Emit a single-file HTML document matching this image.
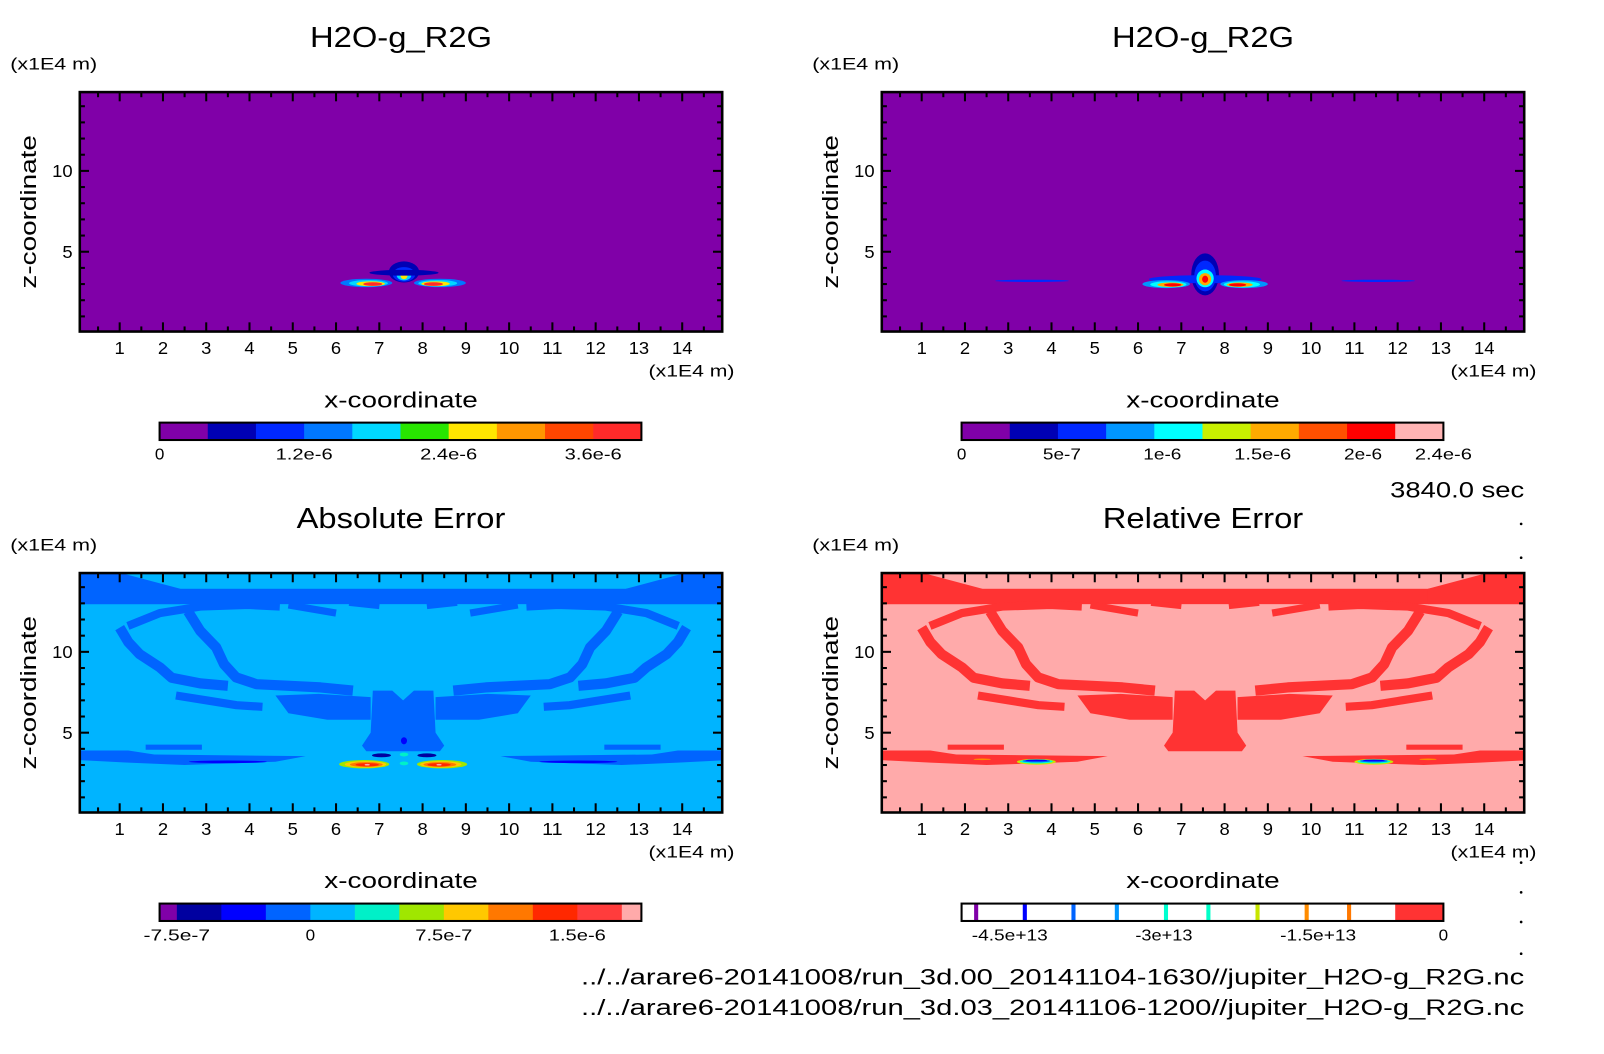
<!DOCTYPE html>
<html><head><meta charset="utf-8"><style>
html,body{margin:0;padding:0;background:#fff;}
svg{display:block;}
text{font-family:"Liberation Sans",sans-serif;fill:#000;}
</style></head><body>
<svg id="fig" xmlns="http://www.w3.org/2000/svg" width="1604" height="1054" viewBox="0 0 1568 1030" preserveAspectRatio="none">
<rect x="0" y="0" width="1568" height="1030" fill="#fff"/>
<g id="root"></g>
<text x="1490" y="486" font-size="22" text-anchor="end" textLength="131" lengthAdjust="spacingAndGlyphs">3840.0 sec</text>
<text x="1490" y="962" font-size="22" text-anchor="end" textLength="922" lengthAdjust="spacingAndGlyphs">../../arare6-20141008/run_3d.00_20141104-1630//jupiter_H2O-g_R2G.nc</text>
<text x="1490" y="992" font-size="22" text-anchor="end" textLength="922" lengthAdjust="spacingAndGlyphs">../../arare6-20141008/run_3d.03_20141106-1200//jupiter_H2O-g_R2G.nc</text>
</svg>
<script>
// ---- data ----
const xTicks=[1,2,3,4,5,6,7,8,9,10,11,12,13,14];
const zTicks=[5,10];
const panelTitles=["H2O-g_R2G","H2O-g_R2G","Absolute Error","Relative Error"];
const titleWidths=[178,178,204,196];
const cbColorsTL=["#8000a8","#0000b4","#0028ff","#0078ff","#00d8ff","#28e600","#ffe600","#ff9600","#ff4600","#ff2a2a"];
const cbTicksTL=[0,1.2e-6,2.4e-6,3.6e-6];
const cbLabelsTL=["0","1.2e-6","2.4e-6","3.6e-6"];
const cbMaxTL=4e-6;
const cbColorsTR=["#8000a8","#0000b4","#0028ff","#0096ff","#00ffff","#c8f000","#ffaa00","#ff5000","#ff0000","#ffb4b4"];
const cbTicksTR=[0,5e-7,1e-6,1.5e-6,2e-6,2.4e-6];
const cbLabelsTR=["0","5e-7","1e-6","1.5e-6","2e-6","2.4e-6"];
const cbMaxTR=2.4e-6;
const cbColorsBL=["#8000a8","#0000a0","#0000ff","#0064ff","#00b4ff","#00f0c8","#a0e600","#ffc800","#ff7800","#ff2800","#ff3c3c","#ffaaaa"];
const cbEdgesBL=[-8.47e-7,-7.5e-7,-5e-7,-2.5e-7,0,2.5e-7,5e-7,7.5e-7,1e-6,1.25e-6,1.5e-6,1.75e-6,1.86e-6];
const cbTicksBL=[-7.5e-7,0,7.5e-7,1.5e-6];
const cbLabelsBL=["-7.5e-7","0","7.5e-7","1.5e-6"];
const cbLineFracBR=[0.026,0.127,0.228,0.318,0.42,0.508,0.61,0.712,0.8];
const cbLineColorsBR=["#8000a8","#0000ff","#0064ff","#0096ff","#00ffd0","#00ffc8","#c8e600","#ff8c00","#ff7800"];
const cbRedFracBR=0.9;
const cbTickFracBR=[0.1,0.42,0.74,1.0];
const cbLabelsBR=["-4.5e+13","-3e+13","-1.5e+13","0"];
// blobs: [x, z, rx, rz, color]
const blobsTL=[[7.57,3.75,0.35,0.65,"#0000b4"],[7.57,3.6,0.26,0.45,"#0028ff"],[7.57,3.55,0.17,0.32,"#00d8ff"],[7.57,3.5,0.08,0.2,"#ffe600"],
 [7.57,3.7,0.8,0.18,"#0000b4"],
 [6.7,3.07,0.6,0.26,"#0078ff"],[6.75,3.05,0.45,0.2,"#00d8ff"],[6.8,3.02,0.33,0.15,"#ffe600"],[6.85,3.0,0.22,0.11,"#ff2a2a"],
 [8.4,3.07,0.6,0.26,"#0078ff"],[8.35,3.05,0.45,0.2,"#00d8ff"],[8.3,3.02,0.33,0.15,"#ffe600"],[8.25,3.0,0.22,0.11,"#ff2a2a"]];
const blobsTR=[[7.55,3.6,0.32,1.3,"#0000b4"],[7.55,3.5,0.25,0.95,"#0028ff"],[7.55,3.3,1.3,0.25,"#0028ff"],[7.55,3.35,0.2,0.55,"#00ffff"],[7.55,3.3,0.14,0.38,"#ffaa00"],[7.55,3.3,0.07,0.22,"#ff0000"],
 [6.65,3.0,0.55,0.25,"#0096ff"],[6.7,2.98,0.42,0.19,"#00ffff"],[6.75,2.96,0.3,0.14,"#ffaa00"],[6.8,2.95,0.2,0.1,"#ff0000"],
 [8.45,3.0,0.55,0.25,"#0096ff"],[8.4,2.98,0.42,0.19,"#00ffff"],[8.35,2.96,0.3,0.14,"#ffaa00"],[8.3,2.95,0.2,0.1,"#ff0000"],
 [3.55,3.2,0.85,0.07,"#0028ff"],[11.55,3.2,0.85,0.07,"#0028ff"]];
// error pattern (left half, mirrored about centre)
const mirrorX=15.1;
const strokeArm=[[1.0,11.5],[1.2,10.6],[1.46,9.86],[1.93,9.04],[2.2,8.4],[2.86,8.05],[3.5,7.9]];
const strokeInner=[[2.58,12.5],[2.86,11.3],[3.23,10.27],[3.41,9.24],[3.69,8.42],[4.16,8.0],[5.64,7.8],[6.39,7.6]];
const strokeRim=[[1.19,11.6],[1.93,12.4],[2.86,12.8],[3.97,12.9],[4.7,12.8]];
const strokeRim2=[[4.9,12.9],[6.0,12.4]];
const strokeRim3=[[6.3,13.0],[7.0,12.8]];
const strokeFeather=[[2.3,7.3],[3.0,7.0],[3.7,6.7],[4.3,6.6]];
const strokeUpper=[[1.6,4.1],[2.9,4.1]];
const polyLump=[[4.6,7.3],[5.6,7.4],[6.8,7.2],[6.8,5.8],[5.8,5.8],[4.9,6.2]];
const polyBand=[[0.08,3.9],[1.2,3.9],[1.8,3.65],[5.3,3.55],[4.6,3.2],[2.5,3.0],[1.2,3.15],[0.08,3.3]];
const polyTopCorner=[[0.08,14.9],[1.0,14.9],[2.4,13.9],[2.4,12.95],[0.08,12.95]];
const polyColumn=[[6.85,7.6],[7.3,7.6],[7.55,7.0],[7.8,7.6],[8.25,7.6],[8.3,5.0],[8.5,4.2],[8.4,3.85],[6.7,3.85],[6.6,4.2],[6.8,5.0]];
const blobsBL=[[3.5,3.2,0.9,0.08,"#0000ff"],[11.6,3.2,0.9,0.08,"#0000ff"],[7.57,4.5,0.07,0.22,"#0000ff"],
 [7.05,3.6,0.22,0.12,"#0000a0"],[8.1,3.6,0.22,0.12,"#0000a0"],[7.57,3.65,0.1,0.12,"#00f0c8"],[7.57,3.1,0.1,0.12,"#00f0c8"],
 [6.65,3.05,0.58,0.26,"#a0e600"],[6.68,3.04,0.48,0.2,"#ffc800"],[6.7,3.03,0.38,0.15,"#ff7800"],[6.72,3.02,0.27,0.1,"#ff2800"],[6.72,3.02,0.06,0.05,"#ffaaaa"],
 [8.45,3.05,0.58,0.26,"#a0e600"],[8.42,3.04,0.48,0.2,"#ffc800"],[8.4,3.03,0.38,0.15,"#ff7800"],[8.38,3.02,0.27,0.1,"#ff2800"],[8.38,3.02,0.06,0.05,"#ffaaaa"]];
const blobsBR=[[3.65,3.2,0.45,0.18,"#c8e600"],[3.65,3.22,0.38,0.13,"#00ffd0"],[3.65,3.25,0.32,0.09,"#0064ff"],[3.65,3.28,0.25,0.05,"#0000ff"],
 [11.45,3.2,0.45,0.18,"#c8e600"],[11.45,3.22,0.38,0.13,"#00ffd0"],[11.45,3.25,0.32,0.09,"#0064ff"],[11.45,3.28,0.25,0.05,"#0000ff"],
 [2.4,3.35,0.2,0.05,"#ff8c00"],[12.7,3.35,0.2,0.05,"#ff8c00"]];

// ---- drawing ----
const NS="http://www.w3.org/2000/svg";
const root=document.getElementById('root');
function el(tag,attrs,parent){const e=document.createElementNS(NS,tag);for(const k in attrs)e.setAttribute(k,attrs[k]);(parent||root).appendChild(e);return e;}
const panels=[[0,0],[784,0],[0,470],[784,470]];
const pnames=["top-left","top-right","bottom-left","bottom-right"];
panels.forEach((p,i)=>{
  const ox=p[0],oy=p[1];
  const sx=v=>ox+74.7+42.3*v, sz=v=>oy+325-15.8*v;
  const g=el('g',{});
  
  
  const cid='clip'+i;
  const cp=el('clipPath',{id:cid},g);el('rect',{x:ox+78,y:oy+90,width:628,height:234},cp);
  const plot=el('g',{'clip-path':'url(#'+cid+')'},g);
  
  
  const bg=["#8000a8","#8000a8","#00b4ff","#ffaaaa"][i];
  el('rect',{x:ox+78,y:oy+90,width:628,height:234,fill:bg},plot);
  const pts=a=>a.map(q=>sx(q[0])+','+sz(q[1])).join(' ');
  const mir=a=>a.map(q=>[mirrorX-q[0],q[1]]);
  function blobs(arr){arr.forEach(b=>{const e=el('ellipse',{cx:sx(b[0]),cy:sz(b[1]),rx:b[2]*42.3,ry:b[3]*15.8,fill:b[4]},plot);
    });}
  if(i>=2){
    const dk=i==2?"#0064ff":"#ff3333";
    el('rect',{x:ox+78,y:sz(13.9),width:628,height:sz(12.95)-sz(13.9),fill:dk},plot);
    [polyTopCorner,polyLump,polyBand].forEach(a=>{el('polygon',{points:pts(a),fill:dk},plot);el('polygon',{points:pts(mir(a)),fill:dk},plot);});
    el('polygon',{points:pts(polyColumn),fill:dk},plot);
    [[strokeArm,10],[strokeInner,10],[strokeRim,8],[strokeRim2,7],[strokeRim3,5],[strokeFeather,8],[strokeUpper,5]].forEach(s=>{
      [s[0],mir(s[0])].forEach(a=>{el('polyline',{points:pts(a),fill:'none',stroke:dk,'stroke-width':s[1],'stroke-linejoin':'round'},plot);});
    });
    blobs(i==2?blobsBL:blobsBR);
  } else blobs(i==0?blobsTL:blobsTR);
  // frame
  const fr=el('rect',{x:ox+78,y:oy+90,width:628,height:234,fill:'none',stroke:'#000','stroke-width':2.5},g);
  
  for(let v=0.5;v<14.95;v+=0.5){const maj=Math.abs(v-Math.round(v))<1e-6,L=maj?9:5;
    el('line',{x1:sx(v),x2:sx(v),y1:oy+90,y2:oy+90+L,stroke:'#000','stroke-width':2},g);
    el('line',{x1:sx(v),x2:sx(v),y1:oy+324,y2:oy+324-L,stroke:'#000','stroke-width':2},g);}
  for(let v=1;v<=14;v++){const L=zTicks.includes(v)?9:5;
    el('line',{x1:ox+78,x2:ox+78+L,y1:sz(v),y2:sz(v),stroke:'#000','stroke-width':2},g);
    el('line',{x1:ox+706,x2:ox+706-L,y1:sz(v),y2:sz(v),stroke:'#000','stroke-width':2},g);}
  xTicks.forEach(v=>{const s=String(v);const t=el('text',{x:sx(v),y:oy+346,'font-size':17,'text-anchor':'middle',textLength:s.length*10,lengthAdjust:'spacingAndGlyphs'},g);t.textContent=s;
    });
  zTicks.forEach(v=>{const s=String(v);const t=el('text',{x:ox+71,y:sz(v)+6,'font-size':17,'text-anchor':'end',textLength:s.length*10,lengthAdjust:'spacingAndGlyphs'},g);t.textContent=s;
    });
  const tt=el('text',{x:ox+392,y:oy+46,'font-size':28,'text-anchor':'middle',textLength:titleWidths[i],lengthAdjust:'spacingAndGlyphs'},g);tt.textContent=panelTitles[i];
  
  const u1=el('text',{x:ox+10,y:oy+68,'font-size':16,textLength:85,lengthAdjust:'spacingAndGlyphs'},g);u1.textContent='(x1E4 m)';
  
  const u2=el('text',{x:ox+718,y:oy+368,'font-size':16,'text-anchor':'end',textLength:84,lengthAdjust:'spacingAndGlyphs'},g);u2.textContent='(x1E4 m)';
  
  const xl=el('text',{x:ox+392,y:oy+398,'font-size':22,'text-anchor':'middle',textLength:150,lengthAdjust:'spacingAndGlyphs'},g);xl.textContent='x-coordinate';
  
  const yl=el('text',{x:0,y:0,'font-size':22,'text-anchor':'middle',textLength:150,lengthAdjust:'spacingAndGlyphs',transform:'translate('+(ox+35)+','+(oy+207)+') rotate(-90)'},g);yl.textContent='z-coordinate';
  
  // colorbar
  const cx0=ox+156,cw=471,cy=oy+413,ch=17;
  const cb=el('g',{},g);
  
  function lab(txt,x){const t=el('text',{x:x,y:cy+36,'font-size':15,'text-anchor':'middle',textLength:txt.length*9.3,lengthAdjust:'spacingAndGlyphs'},cb);t.textContent=txt;
    }
  if(i<2){const cols=i==0?cbColorsTL:cbColorsTR,mx=i==0?cbMaxTL:cbMaxTR,tk=i==0?cbTicksTL:cbTicksTR,lb=i==0?cbLabelsTL:cbLabelsTR;
    cols.forEach((c,k)=>el('rect',{x:cx0+cw*k/cols.length,y:cy,width:cw/cols.length+0.5,height:ch,fill:c},cb));
    tk.forEach((v,k)=>lab(lb[k],cx0+cw*v/mx));
  } else if(i==2){const lo=cbEdgesBL[0],hi=cbEdgesBL[cbEdgesBL.length-1],f=v=>cx0+cw*(v-lo)/(hi-lo);
    cbColorsBL.forEach((c,k)=>el('rect',{x:f(cbEdgesBL[k]),y:cy,width:f(cbEdgesBL[k+1])-f(cbEdgesBL[k])+0.5,height:ch,fill:c},cb));
    cbTicksBL.forEach((v,k)=>lab(cbLabelsBL[k],f(v)));
  } else {
    el('rect',{x:cx0,y:cy,width:cw,height:ch,fill:'#fff'},cb);
    cbLineFracBR.forEach((fr2,k)=>el('rect',{x:cx0+cw*fr2,y:cy,width:4,height:ch,fill:cbLineColorsBR[k]},cb));
    el('rect',{x:cx0+cw*cbRedFracBR,y:cy,width:cw*(1-cbRedFracBR),height:ch,fill:'#ff3333'},cb);
    cbTickFracBR.forEach((fr2,k)=>lab(cbLabelsBR[k],cx0+cw*fr2));
  }
  el('rect',{x:cx0,y:cy,width:cw,height:ch,fill:'none',stroke:'#000','stroke-width':2},cb);
});
// stray dots at right margin
[512,545,843,872,901,932].forEach(y=>{const d=el('circle',{cx:1487,cy:y,r:1.3,fill:'#000'});
  });
</script>
</body></html>
